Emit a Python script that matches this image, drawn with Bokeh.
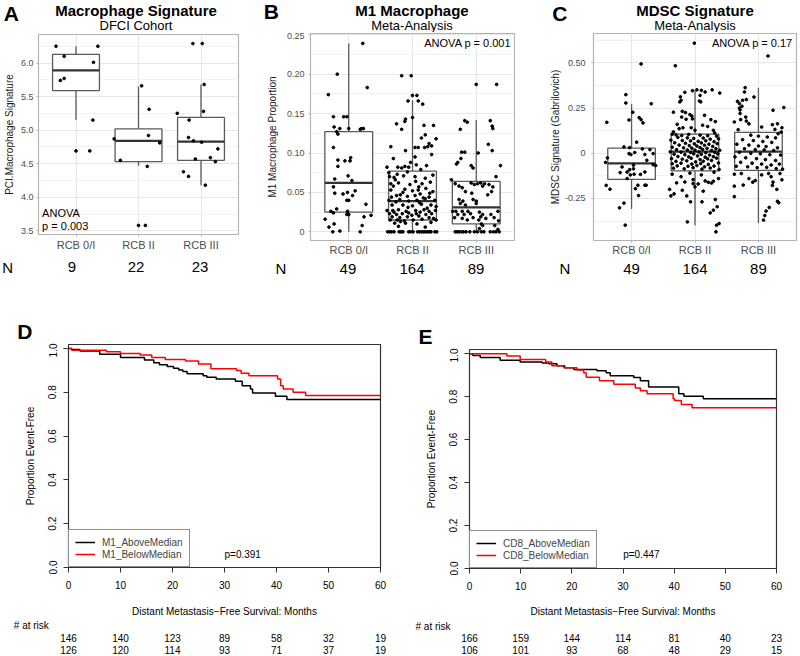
import numpy as np
from bokeh.plotting import figure
from bokeh.models import Range1d, FixedTicker, Label, Legend, LegendItem
from bokeh.layouts import row, column
from bokeh.embed import file_html
from bokeh.resources import INLINE

FONT = "Liberation Sans"

# ---------------- data ----------------
categories = ["RCB 0/I", "RCB II", "RCB III"]
cat_pos = [1, 2, 3]

# Panel A: Macrophage signature (DFCI cohort)
a_n = [9, 22, 23]
a_q1 = [5.59, 4.53, 4.55]
a_med = [5.89, 4.84, 4.83]
a_q3 = [6.13, 5.02, 5.19]
a_lo = [5.15, 4.47, 4.18]
a_hi = [6.25, 5.65, 5.68]
a0_val = [6.25, 6.25, 6.10, 6.01, 5.74, 5.77, 5.15, 4.69, 4.69]
a0_jit = [-0.32, 0.35, -0.19, 0.28, -0.25, -0.19, 0.27, 0.0, 0.22]
a1_val = [5.66, 5.31, 4.92, 4.87, 4.81, 4.55, 4.46, 3.58, 3.58]
a1_jit = [0.05, 0.17, 0.16, -0.39, 0.34, -0.29, 0.14, 0.0, 0.11]
a2_val = [6.29, 6.29, 5.68, 5.28, 5.25, 5.15, 4.89, 4.84, 4.82, 4.72, 4.59, 4.57, 4.53, 4.38, 4.31, 4.18]
a2_jit = [-0.13, 0.02, 0.05, 0.04, -0.38, -0.19, -0.2, -0.12, 0.01, 0.27, 0.15, -0.09, 0.23, -0.28, -0.2, 0.07]

# Panel B: M1 macrophage proportion
b_n = [49, 164, 89]
b_q1 = [0.025, 0.015, 0.010]
b_med = [0.062, 0.039, 0.031]
b_q3 = [0.127, 0.077, 0.064]
b_lo = [0.0, 0.0, 0.0]
b_hi = [0.239, 0.167, 0.142]
b0_val = [0.239, 0.200, 0.183, 0.174, 0.146, 0.146, 0.146, 0.133, 0.131, 0.127, 0.124, 0.131, 0.130, 0.131,
          0.131, 0.107, 0.094, 0.091, 0.090, 0.090, 0.083, 0.071, 0.067, 0.065, 0.057, 0.052, 0.049, 0.048,
          0.050, 0.046, 0.040, 0.040, 0.035, 0.029, 0.026, 0.024, 0.026, 0.022, 0.022, 0.021, 0.019, 0.016,
          0.010, 0.008, 0.006, 0.001, 0.000, 0.000]
b0_jit = [0.22, -0.18, 0.29, -0.32, -0.24, -0.08, -0.03, -0.23, -0.14, -0.19, -0.17, 0.0, 0.18, 0.2,
          0.23, -0.24, 0.03, -0.17, -0.06, 0.02, -0.17, -0.01, -0.22, 0.05, -0.24, 0.1, -0.22, -0.09,
          -0.02, 0.06, -0.03, 0.0, 0.27, -0.19, -0.28, -0.24, -0.02, -0.03, 0.0, 0.35, 0.24, -0.37,
          -0.23, 0.21, -0.31, -0.14, -0.25, 0.18]
b1_val = [0.198, 0.198, 0.173, 0.173, 0.166, 0.166, 0.162, 0.145, 0.137, 0.140, 0.143, 0.130, 0.135, 0.135,
          0.119, 0.123, 0.118, 0.108, 0.107, 0.107, 0.107, 0.108, 0.109, 0.103, 0.112, 0.093, 0.095, 0.084,
          0.082, 0.082, 0.081, 0.083, 0.082, 0.085,
          0.075, 0.073, 0.076, 0.070, 0.069, 0.071, 0.070, 0.068, 0.072, 0.061, 0.062, 0.060, 0.061, 0.063,
          0.053, 0.054, 0.052, 0.053, 0.055, 0.051, 0.046, 0.047, 0.045, 0.046, 0.048, 0.044, 0.040, 0.041,
          0.039, 0.040, 0.042, 0.040,
          0.034, 0.034, 0.033, 0.035, 0.034, 0.032, 0.027, 0.027, 0.028, 0.026, 0.027, 0.028, 0.026, 0.027,
          0.023, 0.022, 0.023, 0.024, 0.023, 0.022, 0.023, 0.019, 0.018, 0.019, 0.020, 0.018, 0.015, 0.015,
          0.014, 0.015, 0.016, 0.015, 0.011, 0.011, 0.010, 0.012, 0.007, 0.006,
          0.058, 0.057, 0.050, 0.049, 0.044, 0.043, 0.038, 0.037, 0.031, 0.030, 0.025, 0.025, 0.021, 0.017,
          0.013, 0.064, 0.066, 0.079, 0.088, 0.098,
          0.0, 0.0, 0.0, 0.0, 0.0, 0.0, 0.0, 0.0, 0.0, 0.0, 0.0, 0.0, 0.0, 0.0, 0.0, 0.0, 0.0, 0.0, 0.0, 0.0]
b1_jit = [-0.17, -0.02, 0.0, 0.07, -0.07, 0.09, 0.16, 0.0, -0.25, -0.12, -0.11, -0.17, 0.33, 0.18,
          0.14, 0.2, 0.37, -0.34, 0.04, 0.09, 0.19, 0.24, 0.3, -0.11, 0.26, -0.3, 0.04, 0.22,
          -0.4, -0.23, -0.17, -0.12, -0.06, 0.06,
          -0.37, -0.24, -0.08, -0.36, -0.29, -0.14, 0.04, 0.2, 0.32, -0.34, -0.22, -0.04, 0.15, 0.28,
          -0.34, -0.12, 0.0, 0.09, 0.21, 0.32, -0.25, -0.19, -0.08, 0.04, 0.12, 0.26, -0.37, -0.2,
          -0.06, 0.07, 0.2, 0.35,
          -0.32, -0.15, 0.0, 0.14, 0.29, 0.37, -0.4, -0.31, -0.22, -0.1, 0.05, 0.18, 0.26, 0.36,
          -0.36, -0.25, -0.16, -0.06, 0.06, 0.21, 0.3, -0.32, -0.2, -0.08, 0.1, 0.26, -0.35, -0.24,
          -0.13, 0.01, 0.15, 0.37, -0.28, -0.11, 0.07, 0.29, -0.22, 0.2,
          -0.3, 0.1, -0.15, 0.27, -0.33, 0.17, -0.26, 0.11, -0.07, 0.23, -0.29, 0.12, -0.01, 0.33,
          -0.19, 0.05, -0.27, 0.13, -0.03, 0.3,
          -0.39, -0.36, -0.33, -0.29, -0.21, -0.18, -0.15, -0.06, -0.03, 0.01, 0.08, 0.11, 0.14, 0.17,
          0.2, 0.23, 0.26, 0.29, 0.35, 0.38]
b2_val = [0.187, 0.187, 0.141, 0.139, 0.130, 0.141, 0.134, 0.131, 0.111, 0.103, 0.101, 0.101, 0.100, 0.093,
          0.088, 0.086, 0.084, 0.081, 0.084, 0.070, 0.066,
          0.061, 0.062, 0.060, 0.061, 0.062, 0.061, 0.060, 0.058, 0.056, 0.058, 0.057, 0.051, 0.049, 0.051,
          0.047, 0.041, 0.039, 0.041, 0.039, 0.036, 0.036, 0.034,
          0.026, 0.026, 0.026, 0.026, 0.025, 0.026, 0.022, 0.022, 0.023, 0.022, 0.022, 0.018, 0.017, 0.018,
          0.019, 0.017, 0.018, 0.015, 0.015, 0.014, 0.010, 0.008, 0.008, 0.004, 0.003,
          0.0, 0.0, 0.0, 0.0, 0.0, 0.0, 0.0, 0.0, 0.0, 0.0, 0.0, 0.0, 0.0, 0.0, 0.0]
b2_jit = [0.0, 0.32, -0.18, -0.14, -0.25, 0.22, 0.25, 0.26, 0.19, 0.25, -0.23, -0.18, 0.03, -0.24,
          -0.29, -0.31, -0.08, -0.05, 0.38, 0.31, -0.39,
          -0.33, -0.08, -0.03, 0.02, 0.07, 0.13, 0.2, -0.27, -0.22, 0.1, 0.26, -0.17, -0.07, 0.24,
          0.18, -0.27, -0.21, -0.05, 0.0, -0.25, 0.0, -0.17,
          -0.37, -0.32, -0.22, -0.13, 0.05, 0.34, -0.29, -0.19, -0.09, 0.1, 0.23, -0.34, -0.22, -0.05,
          0.07, 0.15, 0.28, -0.14, 0.04, 0.35, 0.08, 0.1, 0.29, 0.05, 0.34,
          -0.33, -0.3, -0.27, -0.23, -0.2, -0.16, -0.1, -0.03, 0.02, 0.08, 0.12, 0.22, 0.27, 0.31, 0.36]

# Panel C: MDSC signature
c_n = [49, 164, 89]
c_q1 = [-0.145, -0.098, -0.095]
c_med = [-0.056, 0.009, 0.009]
c_q3 = [0.028, 0.106, 0.115]
c_lo = [-0.308, -0.399, -0.386]
c_hi = [0.273, 0.347, 0.362]
c0_val = [0.494, 0.324, 0.278, 0.274, 0.227, 0.171, 0.184, 0.197, 0.186, 0.168, 0.061, 0.035, 0.031, 0.024,
          0.020, -0.002, -0.002, -0.007, 0.004, -0.007, -0.026, -0.039, -0.051, -0.063, -0.068, -0.076,
          -0.066, -0.091, -0.086, -0.107, -0.104, -0.117, -0.104, -0.120, -0.116, -0.140, -0.177, -0.177,
          -0.177, -0.178, -0.199, -0.196, -0.234, -0.276, -0.302, -0.398]
c0_jit = [0.15, -0.09, -0.09, 0.31, 0.02, -0.39, -0.04, 0.12, 0.15, 0.18, 0.08, -0.12, -0.03, 0.17,
          0.29, 0.34, -0.04, -0.01, 0.05, 0.21, -0.38, 0.24, -0.41, 0.34, 0.38, -0.15,
          0.03, -0.03, 0.03, -0.18, -0.07, 0.14, 0.21, -0.02, 0.04, -0.07, 0.21, 0.23,
          0.1, -0.4, -0.34, 0.06, 0.11, -0.12, -0.19, -0.1]
c1_val = [0.609, 0.484, 0.337, 0.346, 0.351, 0.348, 0.339, 0.351, 0.333, 0.312, 0.293, 0.284, 0.320, 0.289,
          0.284, 0.227, 0.232, 0.225, 0.214, 0.206, 0.190, 0.210, 0.186, 0.200, 0.188, 0.136, 0.141, 0.141,
          0.127, 0.127, 0.112, 0.118, 0.175, 0.160, 0.155, 0.148,
          0.105, 0.102, 0.098, 0.104, 0.100, 0.097, 0.095, 0.088, 0.085, 0.082, 0.084, 0.078, 0.080,
          0.072, 0.070, 0.068, 0.066, 0.069, 0.064, 0.058, 0.055, 0.052, 0.057, 0.050, 0.053,
          0.045, 0.042, 0.040, 0.044, 0.038, 0.033, 0.030, 0.028, 0.031, 0.027, 0.025,
          0.020, 0.018, 0.017, 0.021, 0.015, 0.016, 0.008, 0.006, 0.004, 0.007, 0.003, 0.005,
          -0.005, -0.008, -0.003, -0.006, -0.010, -0.004, -0.018, -0.020, -0.015, -0.022, -0.019,
          -0.030, -0.033, -0.028, -0.035, -0.031, -0.027, -0.045, -0.042, -0.048, -0.044, -0.040,
          -0.058, -0.055, -0.060, -0.057, -0.062, -0.054, -0.070, -0.072, -0.068, -0.075, -0.071,
          -0.083, -0.086, -0.080, -0.088, -0.082, -0.090,
          -0.116, -0.164, -0.159, -0.146, -0.168, -0.186, -0.153, -0.161, -0.165, -0.155, -0.200, -0.205,
          -0.170, -0.236, -0.236, -0.269, -0.269, -0.256, -0.296, -0.330, -0.315, -0.380, -0.398, -0.389,
          -0.435, -0.120, -0.130, -0.105, -0.140, -0.110, -0.210, -0.225]
c1_jit = [-0.01, -0.31, -0.16, -0.04, 0.03, 0.10, 0.16, 0.27, 0.39, -0.23, -0.22, -0.24, 0.08, 0.07,
          0.09, -0.34, -0.2, -0.15, -0.08, -0.05, -0.04, 0.15, 0.25, -0.21, -0.14, -0.25, -0.19, -0.06,
          0.0, 0.29, 0.31, -0.34, 0.32, -0.28, 0.12, 0.2,
          -0.36, -0.3, -0.21, -0.1, 0.08, 0.2, 0.34, -0.27, -0.12, -0.02, 0.13, 0.24, 0.37,
          -0.38, -0.2, -0.07, 0.05, 0.17, 0.3, -0.32, -0.15, -0.01, 0.1, 0.22, 0.35,
          -0.25, -0.09, 0.03, 0.15, 0.28, -0.36, -0.18, -0.05, 0.08, 0.19, 0.33,
          -0.29, -0.12, 0.0, 0.12, 0.26, 0.39, -0.39, -0.22, -0.07, 0.06, 0.17, 0.31,
          -0.33, -0.16, -0.02, 0.1, 0.23, 0.36, -0.27, -0.1, 0.04, 0.16, 0.29,
          -0.37, -0.2, -0.06, 0.08, 0.2, 0.34, -0.3, -0.13, 0.01, 0.13, 0.26,
          -0.36, -0.22, -0.05, 0.09, 0.21, 0.37, -0.28, -0.11, 0.03, 0.15, 0.3,
          -0.34, -0.17, -0.03, 0.11, 0.24, 0.38,
          -0.36, -0.29, -0.16, -0.03, -0.03, 0.0, 0.16, 0.21, 0.26, 0.29, -0.4, -0.2,
          0.05, -0.38, -0.13, -0.07, 0.11, 0.32, 0.35, 0.24, 0.29, -0.12, 0.34, 0.38,
          0.33, 0.1, -0.22, 0.3, 0.37, -0.08, 0.13, -0.33]
c2_val = [0.538, 0.363, 0.339, 0.297, 0.293, 0.287, 0.250, 0.240, 0.311, 0.253, 0.238, 0.173, 0.186, 0.178,
          0.163, 0.158, 0.163, 0.132, 0.141, 0.117, 0.275, 0.260, 0.220, 0.200, 0.130, 0.145,
          0.100, 0.095, 0.090, 0.085, 0.108, 0.075, 0.070, 0.065, 0.060, 0.050, 0.045, 0.040, 0.037,
          0.030, 0.025, 0.020, 0.018, 0.015, 0.005, 0.000, -0.003, -0.008, -0.010, -0.020, -0.025,
          -0.030, -0.035, -0.040, -0.050, -0.055, -0.060, -0.065, -0.060, -0.072, -0.075, -0.080,
          -0.078, -0.085, -0.088,
          -0.116, -0.112, -0.176, -0.182, -0.160, -0.151, -0.112, -0.160, -0.178, -0.112, -0.147, -0.200,
          -0.266, -0.274, -0.240, -0.320, -0.370, -0.345, -0.300, -0.130, -0.140, -0.120]
c2_jit = [0.15, -0.21, -0.22, -0.19, -0.25, -0.33, -0.3, -0.29, -0.07, 0.4, 0.23, -0.38, -0.28, -0.19,
          -0.15, 0.22, 0.3, 0.26, 0.37, 0.36, -0.3, -0.26, -0.29, -0.2, -0.32, 0.05,
          -0.12, 0.0, 0.14, 0.27, 0.31, -0.25, -0.08, 0.07, 0.21, -0.34, -0.15, 0.0, 0.12,
          0.3, -0.22, -0.05, 0.09, 0.24, -0.3, -0.12, 0.03, 0.18, 0.35, -0.37, -0.2,
          -0.03, 0.11, 0.27, -0.28, -0.1, 0.05, 0.2, 0.33, -0.35, -0.17, -0.02,
          0.13, 0.28, 0.38,
          -0.38, -0.27, -0.24, -0.38, -0.09, -0.05, 0.16, 0.23, 0.22, 0.34, 0.37, 0.29,
          0.3, 0.32, -0.38, 0.12, 0.08, 0.1, 0.17, 0.2, -0.15, 0.05]

# Panels D/E: Kaplan-Meier curves
risk_times = [0, 10, 20, 30, 40, 50, 60]
d_t_above = [0, 0.6, 2.2, 6.0, 10.0, 14.6, 16.4, 17.5, 19.0, 20.2, 21.2, 22.0, 22.8, 25.9, 26.6, 28.4,
             32.1, 33.4, 35.0, 35.4, 39.8, 42.0, 60]
d_s_above = [1.0, 0.995, 0.988, 0.974, 0.959, 0.947, 0.935, 0.925, 0.917, 0.910, 0.902, 0.895, 0.884,
             0.875, 0.869, 0.860, 0.850, 0.830, 0.815, 0.797, 0.782, 0.767, 0.767]
d_t_below = [0, 0.6, 7.3, 10.0, 13.8, 16.0, 18.6, 22.5, 25.0, 27.4, 32.3, 33.2, 34.7, 40.2, 40.8, 41.3,
             43.2, 45.6, 60]
d_s_below = [1.0, 0.992, 0.985, 0.977, 0.970, 0.959, 0.950, 0.943, 0.929, 0.907, 0.899, 0.887, 0.875,
             0.860, 0.830, 0.815, 0.800, 0.785, 0.785]
d_risk_above = [146, 140, 123, 89, 58, 32, 19]
d_risk_below = [126, 120, 114, 93, 71, 37, 19]

e_t_above = [0, 0.65, 2.1, 6.0, 9.9, 14.2, 15.5, 17.1, 18.6, 20.4, 24.9, 26.7, 27.5, 32.1, 33.4, 35.0,
             40.9, 41.9, 45.7, 60]
e_s_above = [1.0, 0.992, 0.982, 0.970, 0.962, 0.957, 0.953, 0.944, 0.935, 0.927, 0.921, 0.912, 0.897,
             0.889, 0.874, 0.845, 0.814, 0.802, 0.790, 0.790]
e_t_below = [0, 7.3, 9.9, 14.9, 16.1, 18.4, 21.0, 22.3, 22.8, 25.4, 28.2, 32.4, 33.4, 34.7, 39.8, 40.1,
             41.4, 43.5, 60]
e_s_below = [1.0, 0.989, 0.973, 0.962, 0.944, 0.935, 0.924, 0.912, 0.890, 0.874, 0.858, 0.840, 0.828,
             0.814, 0.790, 0.782, 0.764, 0.749, 0.749]
e_risk_above = [166, 159, 144, 114, 81, 40, 23]
e_risk_below = [106, 101, 93, 68, 48, 29, 15]


# ---------------- helpers ----------------
class Spec:
    """Frame position (page px) and data range of one panel."""
    def __init__(self, fx0, fx1, x0, x1, fy0, fy1, yt, yb):
        self.fx0, self.fx1, self.x0, self.x1 = fx0, fx1, x0, x1
        self.fy0, self.fy1, self.yt, self.yb = fy0, fy1, yt, yb

    def xd(self, px):
        return self.x0 + (px - self.fx0) * (self.x1 - self.x0) / (self.fx1 - self.fx0)

    def yd(self, py):
        return self.yt - (py - self.fy0) * (self.yt - self.yb) / (self.fy1 - self.fy0)


def add_label(p, x, y, text, size, bold=False, align="left", color="black"):
    p.add_layout(Label(x=x, y=y, text=text, text_font=FONT, text_font_size=f"{size}px",
                       text_font_style="bold" if bold else "normal", text_align=align,
                       text_baseline="middle", text_color=color))


def make_fig(width, height, spec, fig_x, fig_y):
    p = figure(width=width, height=height, output_backend="svg", toolbar_location=None,
               x_range=Range1d(spec.x0, spec.x1), y_range=Range1d(spec.yb, spec.yt),
               min_border_left=spec.fx0 - fig_x, min_border_right=fig_x + width - spec.fx1,
               min_border_top=spec.fy0 - fig_y, min_border_bottom=fig_y + height - spec.fy1)
    p.background_fill_color = "white"
    p.border_fill_color = "white"
    return p


def text_fig(width, height, spec, fig_x):
    """Borderless strip whose x mapping matches its panel; y = px from the strip top."""
    p = figure(width=width, height=height, output_backend="svg", toolbar_location=None,
               x_range=Range1d(spec.xd(fig_x), spec.xd(fig_x + width)), y_range=Range1d(height, 0),
               x_axis_type=None, y_axis_type=None, min_border=0)
    p.outline_line_color = None
    p.background_fill_color = "white"
    p.border_fill_color = "white"
    return p


BOXC = "#5a5a5a"
BW = 0.75


def box_panel(spec, width, fig_x, fig_y, height, q1, med, q3, lo, hi, groups, yticks, yminor, ylabels,
              ylabel, y_standoff, ylab_standoff, x_standoff):
    p = make_fig(width, height, spec, fig_x, fig_y)
    pos = np.array(cat_pos, dtype=float)
    p.segment(x0=pos, y0=q3, x1=pos, y1=hi, line_color=BOXC, line_width=1.3)
    p.segment(x0=pos, y0=q1, x1=pos, y1=lo, line_color=BOXC, line_width=1.3)
    p.quad(left=pos - BW / 2, right=pos + BW / 2, bottom=q1, top=q3, fill_color="white",
           line_color=BOXC, line_width=1.3)
    p.segment(x0=pos - BW / 2, x1=pos + BW / 2, y0=med, y1=med, line_color="#333333", line_width=2.2)
    for gi, (vals, jit) in enumerate(groups):
        xs = cat_pos[gi] + np.array(jit)
        p.scatter(x=xs, y=vals, size=2.7, color="black", marker="circle")
    p.outline_line_color = "#b3b3b3"
    p.outline_line_width = 1.2
    p.xaxis.ticker = FixedTicker(ticks=cat_pos)
    p.xaxis.major_label_overrides = dict(zip(cat_pos, categories))
    p.yaxis.ticker = FixedTicker(ticks=yticks, minor_ticks=yminor)
    p.yaxis.major_label_overrides = dict(zip(yticks, ylabels))
    for ax in (p.xaxis[0], p.yaxis[0]):
        ax.axis_line_color = None
        ax.major_tick_line_color = "#b3b3b3"
        ax.major_tick_out = 2
        ax.major_tick_in = 0
        ax.minor_tick_line_color = None
        ax.major_label_text_font = FONT
        ax.major_label_text_color = "#4d4d4d"
    p.xaxis.major_label_text_font_size = "11px"
    p.xaxis.major_label_standoff = x_standoff
    p.yaxis.major_label_text_font_size = "9px"
    p.yaxis.major_label_standoff = y_standoff
    p.yaxis.axis_label = ylabel
    p.yaxis.axis_label_text_font = FONT
    p.yaxis.axis_label_text_font_size = "10px"
    p.yaxis.axis_label_text_font_style = "normal"
    p.yaxis.axis_label_text_color = "#1a1a1a"
    p.yaxis.axis_label_standoff = ylab_standoff
    p.xgrid.grid_line_color = "#e6e6e6"
    p.ygrid.grid_line_color = "#e6e6e6"
    p.ygrid.minor_grid_line_color = "#f2f2f2"
    return p


# ---------------- top row ----------------
SA = Spec(33, 238, 0.4, 3.6, 34, 234, 6.425, 3.445)
SB = Spec(309, 514, 0.4, 3.6, 33, 241, 0.2516, -0.011)
SC = Spec(593, 796, 0.4, 3.6, 33, 240, 0.6626, -0.4828)

pA = box_panel(SA, 263, 0, 33, 223, a_q1, a_med, a_q3, a_lo, a_hi,
               [(a0_val, a0_jit), (a1_val, a1_jit), (a2_val, a2_jit)],
               [3.5, 4.0, 4.5, 5.0, 5.5, 6.0], [3.75, 4.25, 4.75, 5.25, 5.75, 6.25],
               ["3.5", "4.0", "4.5", "5.0", "5.5", "6.0"], "PCI.Macrophage Signature", 1, 3, 2)
pB = box_panel(SB, 263, 263, 32, 226, b_q1, b_med, b_q3, b_lo, b_hi,
               [(b0_val, b0_jit), (b1_val, b1_jit), (b2_val, b2_jit)],
               [0.0, 0.05, 0.1, 0.15, 0.2, 0.25], [0.025, 0.075, 0.125, 0.175, 0.225],
               ["0", "0.05", "0.10", "0.15", "0.20", "0.25"], "M1 Macrophage Proportion", 2, 6, 1)
pC = box_panel(SC, 274, 526, 32, 226, c_q1, c_med, c_q3, c_lo, c_hi,
               [(c0_val, c0_jit), (c1_val, c1_jit), (c2_val, c2_jit)],
               [-0.25, 0.0, 0.25, 0.5], [-0.375, -0.125, 0.125, 0.375, 0.625],
               ["-0.25", "0", "0.25", "0.50"], "MDSC Signature (Gabrilovich)", 4, 1, 1)

add_label(pA, SA.xd(36.7), SA.yd(212.5), "ANOVA", 11)
add_label(pA, SA.xd(36.7), SA.yd(225.0), "p = 0.003", 11)
add_label(pB, SB.xd(510.7), SB.yd(42.7), "ANOVA p = 0.001", 11, align="right")
add_label(pC, SC.xd(792.3), SC.yd(42.7), "ANOVA p = 0.17", 11, align="right")

top_cols = []
for p, s, w, fx, hh, fy, letter, lx, ly, t1, t2, n, npx, ny in [
        (pA, SA, 263, 0, 33, 256, "A", 3.3, 12.5, "Macrophage Signature", "DFCI Cohort", a_n, 1.7, 266.7),
        (pB, SB, 263, 263, 32, 258, "B", 263.3, 11.0, "M1 Macrophage", "Meta-Analysis", b_n, 275.0, 268.3),
        (pC, SC, 274, 526, 32, 258, "C", 551.7, 12.5, "MDSC Signature", "Meta-Analysis", c_n, 559.0, 268.3)]:
    head = text_fig(w, hh, s, fx)
    cx = (s.fx0 + s.fx1) / 2
    add_label(head, s.xd(lx), ly, letter, 21, bold=True)
    add_label(head, s.xd(cx), 9.5, t1, 15, bold=True, align="center")
    add_label(head, s.xd(cx), 24.5, t2, 13, align="center")
    foot = text_fig(w, 290 - fy, s, fx)
    add_label(foot, s.xd(npx), ny - fy, "N", 15)
    for cp, nv in zip(cat_pos, n):
        add_label(foot, cp, ny - fy, str(nv), 15, align="center")
    # text strips are wrapped so that the layout does not align their frames to the panel's frame
    top_cols.append(column(row(head), p, row(foot), spacing=0))

# ---------------- bottom row ----------------
SD = Spec(68, 380, 0, 60, 344, 570, 1.018, 0.0)
SE = Spec(469, 776, 0, 60, 349, 572, 1.0197, 0.0)


def km_panel(spec, fig_x, plot_top, t_a, s_a, t_b, s_b, name_a, name_b, pval, letter, letter_px, p_px,
             risk_a, risk_b, risk_y, xlab_standoff):
    foot_top = 619
    p = make_fig(400, foot_top - plot_top, spec, fig_x, plot_top)
    ra = p.step(x=t_a, y=s_a, mode="after", line_color="black", line_width=1.5)
    rb = p.step(x=t_b, y=s_b, mode="after", line_color="#ff0000", line_width=1.5)
    p.grid.visible = False
    p.outline_line_color = "#333333"
    p.outline_line_width = 1.2
    p.xaxis.ticker = FixedTicker(ticks=risk_times)
    yt = [0.0, 0.2, 0.4, 0.6, 0.8, 1.0]
    p.yaxis.ticker = FixedTicker(ticks=yt)
    p.yaxis.major_label_overrides = {v: f"{v:.1f}" for v in yt}
    p.yaxis.major_label_orientation = "vertical"
    for ax in (p.xaxis[0], p.yaxis[0]):
        ax.axis_line_color = None
        ax.major_tick_line_color = "#333333"
        ax.major_tick_out = 5
        ax.major_tick_in = 0
        ax.minor_tick_line_color = None
        ax.major_label_text_font = FONT
        ax.major_label_text_font_size = "10px"
        ax.major_label_text_color = "black"
        ax.axis_label_text_font = FONT
        ax.axis_label_text_font_size = "10px"
        ax.axis_label_text_font_style = "normal"
        ax.axis_label_text_color = "black"
    p.xaxis.major_label_standoff = 8
    p.xaxis.axis_label = "Distant Metastasis\u2212Free Survival: Months"
    p.xaxis.axis_label_standoff = xlab_standoff
    p.yaxis.major_label_standoff = 7
    p.yaxis.axis_label = "Proportion Event-Free"
    p.yaxis.axis_label_standoff = 10
    legend = Legend(items=[LegendItem(label=name_a, renderers=[ra]),
                           LegendItem(label=name_b, renderers=[rb])],
                    location="bottom_left", margin=0, padding=6, spacing=0,
                    glyph_width=20, glyph_height=12, label_height=12, label_standoff=7,
                    label_text_font=FONT, label_text_font_size="10px",
                    border_line_color="#222222", border_line_width=1,
                    background_fill_color="white", background_fill_alpha=1.0)
    p.add_layout(legend)
    add_label(p, spec.xd(p_px[0]), spec.yd(p_px[1]), pval, 10)

    head = text_fig(400, plot_top - 290, spec, fig_x)
    add_label(head, spec.xd(letter_px[0]), letter_px[1] - 290, letter, 21, bold=True)

    foot = text_fig(400, 656 - foot_top, spec, fig_x)
    add_label(foot, spec.xd(risk_y[0]), risk_y[1] - foot_top, "# at risk", 10)
    for tv, na, nb in zip(risk_times, risk_a, risk_b):
        add_label(foot, tv, risk_y[2] - foot_top, str(na), 10, align="center")
        add_label(foot, tv, risk_y[3] - foot_top, str(nb), 10, align="center")
    return column(row(head), p, row(foot), spacing=0)


colD = km_panel(SD, 0, 343, d_t_above, d_s_above, d_t_below, d_s_below, "M1_AboveMedian", "M1_BelowMedian",
                "p=0.391", "D", (16.7, 331.0), (224.0, 557.0), d_risk_above, d_risk_below,
                (13.3, 625.0, 637.3, 649.3), 14)
colE = km_panel(SE, 400, 348, e_t_above, e_s_above, e_t_below, e_s_below, "CD8_AboveMedian", "CD8_BelowMedian",
                "p=0.447", "E", (418.0, 336.0), (622.7, 557.7), e_risk_above, e_risk_below,
                (415.0, 625.7, 637.7, 649.7), 13)

layout = column(row(*top_cols, spacing=0), row(colD, colE, spacing=0), spacing=0)

open("out.html", "w").write(file_html(layout, INLINE))
